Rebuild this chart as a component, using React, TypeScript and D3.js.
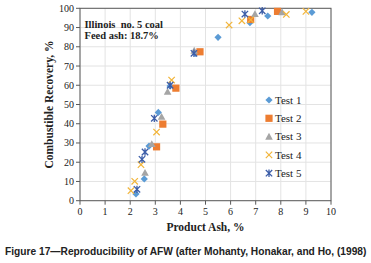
import React, { useLayoutEffect, useRef, useState } from "react";
import * as d3 from "d3";

const xTicks = [0, 1, 2, 3, 4, 5, 6, 7, 8, 9, 10];
const yTicks = [0, 10, 20, 30, 40, 50, 60, 70, 80, 90, 100];

const test1: [number, number][] = [
  [2.23, 3.5], [2.56, 11.3], [2.75, 28.4], [3.12, 45.9], [3.59, 59.6],
  [4.6, 76.5], [5.5, 84.9], [6.77, 92.5], [7.48, 96], [9.24, 97.9],
];
const test2: [number, number][] = [
  [3.05, 28], [3.3, 39.8], [3.82, 58.5], [4.78, 77.4], [6.8, 94.2], [7.87, 98.4],
];
const test3: [number, number][] = [
  [2.59, 14.5], [2.86, 29.5], [3.25, 43.6], [3.49, 56.6], [4.55, 78], [6.97, 97], [8.05, 98],
];
const test4: [number, number][] = [
  [2.03, 5.2], [2.18, 10.1], [2.43, 18.7], [3.05, 35.7], [3.65, 62.7],
  [5.94, 91.3], [6.45, 93.5], [6.8, 94], [8.22, 96.8], [9.0, 98.4],
];
const test5: [number, number][] = [
  [2.27, 5.9], [2.47, 21.5], [2.59, 25.3], [2.96, 42.8], [3.59, 60],
  [4.54, 76.6], [6.57, 97], [7.26, 98.7],
];

const seriesNames = ["Test 1", "Test 2", "Test 3", "Test 4", "Test 5"];
const seriesData = [test1, test2, test3, test4, test5];
const colors = ["#5b9bd5", "#ed7d31", "#a5a5a5", "#f2b53a", "#3c5da8"];
const caption = "Figure 17\u2014Reproducibility of AFW (after Mohanty, Honakar, and Ho, (1998)";

const serif = "'Liberation Serif', 'Times New Roman', serif";

function Marker({ kind, x, y, color }: { kind: number; x: number; y: number; color: string }) {
  if (kind === 0) {
    const s = 3.6;
    return <path d={`M${x},${y - s}L${x + s},${y}L${x},${y + s}L${x - s},${y}Z`} fill={color} />;
  }
  if (kind === 1) {
    const s = 3.6;
    return <rect x={x - s} y={y - s} width={2 * s} height={2 * s} fill={color} />;
  }
  if (kind === 2) {
    const s = 3.8;
    return <path d={`M${x},${y - s}L${x + s},${y + s * 0.8}L${x - s},${y + s * 0.8}Z`} fill={color} />;
  }
  if (kind === 3) {
    const s = 3.2;
    return (
      <path d={`M${x - s},${y - s}L${x + s},${y + s}M${x - s},${y + s}L${x + s},${y - s}`} stroke={color} strokeWidth={1.2} fill="none" />
    );
  }
  const s = 3.2;
  return (
    <path
      d={`M${x - s},${y - s}L${x + s},${y + s}M${x - s},${y + s}L${x + s},${y - s}M${x},${y - s - 0.5}L${x},${y + s + 0.5}`}
      stroke={color}
      strokeWidth={1.3}
      fill="none"
    />
  );
}

export default function App() {
  const x = d3.scaleLinear().domain([0, 10]).range([80, 331]);
  const y = d3.scaleLinear().domain([0, 100]).range([200.7, 8.3]);
  const legendY = [100, 118.3, 136.6, 154.9, 173.2];
  const capRef = useRef<SVGTextElement>(null);
  const [sx, setSx] = useState(0.9);

  useLayoutEffect(() => {
    if (capRef.current) {
      const w = capRef.current.getComputedTextLength();
      if (w > 0) setSx(361 / w);
    }
  }, []);

  return (
    <svg
      width={371}
      height={263}
      style={{ position: "absolute", left: 0, top: 0, background: "#fff" }}
    >
      <rect width={371} height={263} fill="#fff" />
      {xTicks.map((t) => (
        <line key={"gx" + t} x1={x(t)} x2={x(t)} y1={y(0)} y2={y(100)} stroke="#e3e3e3" strokeWidth={1} />
      ))}
      {yTicks.map((t) => (
        <line key={"gy" + t} x1={x(0)} x2={x(10)} y1={y(t)} y2={y(t)} stroke="#e3e3e3" strokeWidth={1} />
      ))}
      <rect x={x(0)} y={y(100)} width={x(10) - x(0)} height={y(0) - y(100)} fill="none" stroke="#5a5a5a" strokeWidth={1} />
      {xTicks.map((t) => (
        <g key={"tx" + t}>
          <line x1={x(t)} x2={x(t)} y1={y(0)} y2={y(0) + 4} stroke="#5a5a5a" />
          <text x={x(t)} y={y(0) + 14} textAnchor="middle" fontFamily={serif} fontSize={10} fill="#222">
            {t}
          </text>
        </g>
      ))}
      {yTicks.map((t) => (
        <g key={"ty" + t}>
          <line x1={x(0) - 4} x2={x(0)} y1={y(t)} y2={y(t)} stroke="#5a5a5a" />
          <text x={x(0) - 6} y={y(t) + 3.5} textAnchor="end" fontFamily={serif} fontSize={10} fill="#222">
            {t}
          </text>
        </g>
      ))}
      {seriesData.map((data, i) => (
        <g key={"s" + i}>
          {data.map((d, j) => (
            <Marker key={j} kind={i} x={x(d[0])} y={y(d[1])} color={colors[i]} />
          ))}
        </g>
      ))}
      {seriesNames.map((n, i) => (
        <g key={"l" + i}>
          <Marker kind={i} x={269} y={legendY[i]} color={colors[i]} />
          <text x={275} y={legendY[i] + 3.8} fontFamily={serif} fontSize={11} fill="#222">
            {n}
          </text>
        </g>
      ))}
      <text x={84.5} y={27.5} fontFamily={serif} fontSize={10.5} fontWeight="bold" fill="#222" xmlSpace="preserve">
        Illinois  no. 5 coal
      </text>
      <text x={84.5} y={38.8} fontFamily={serif} fontSize={10.5} fontWeight="bold" fill="#222">
        Feed ash: 18.7%
      </text>
      <text
        transform={`translate(53,${(y(0) + y(100)) / 2}) rotate(-90)`}
        textAnchor="middle"
        fontFamily={serif}
        fontSize={11.5}
        fontWeight="bold"
        fill="#222"
      >
        Combustible Recovery, %
      </text>
      <text x={205.5} y={231} textAnchor="middle" fontFamily={serif} fontSize={11.5} fontWeight="bold" fill="#222">
        Product Ash, %
      </text>
      <g transform={`translate(5,254.5) scale(${sx},1)`}>
        <text
          ref={capRef}
          x={0}
          y={0}
          fontFamily="'Liberation Sans', Arial, sans-serif"
          fontSize={10.5}
          fontWeight="bold"
          fill="#222"
        >
          {caption}
        </text>
      </g>
    </svg>
  );
}
